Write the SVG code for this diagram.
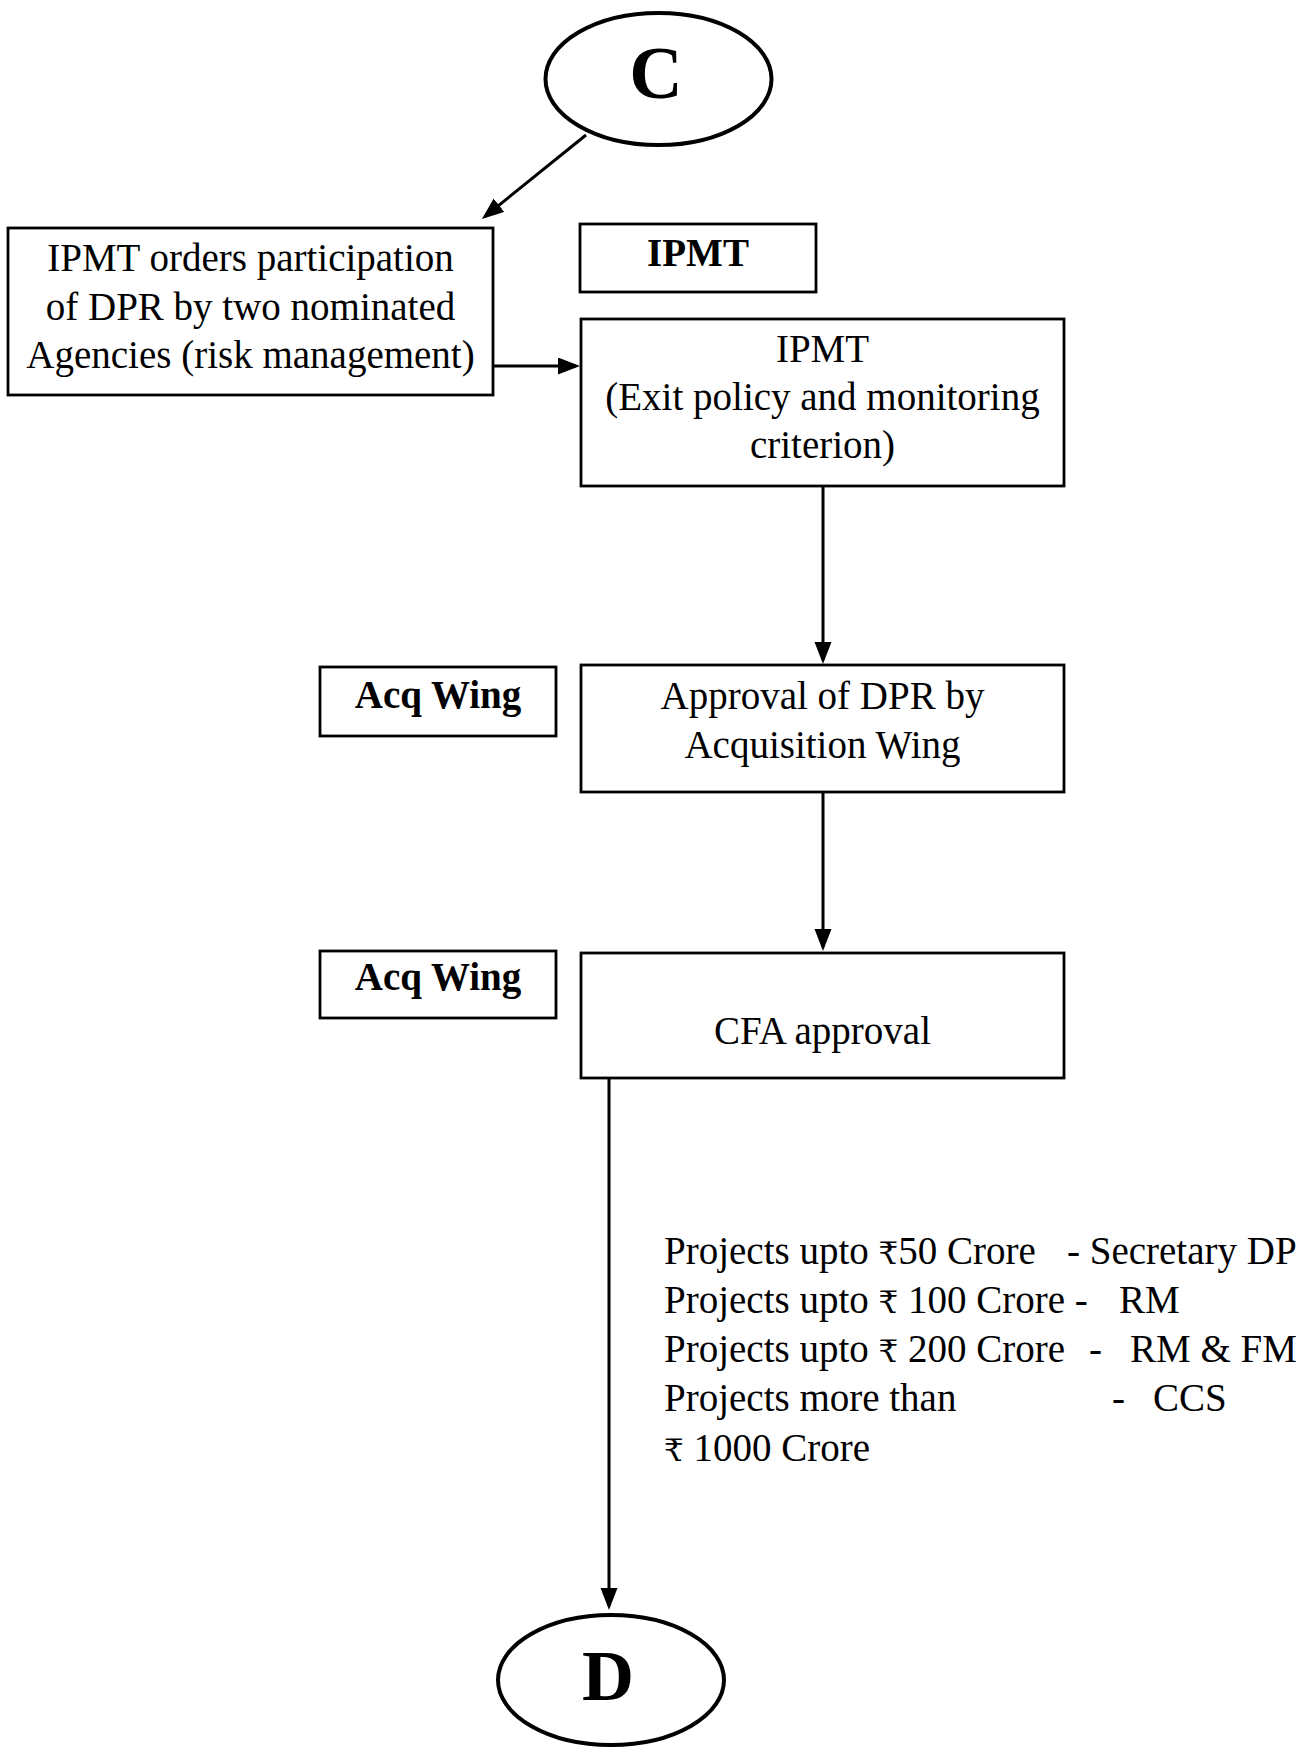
<svg xmlns="http://www.w3.org/2000/svg" width="1310" height="1749" viewBox="0 0 1310 1749">
  <style>
    .box { fill: #fff; stroke: #000; stroke-width: 2.8; }
    .oval { fill: #fff; stroke: #000; stroke-width: 4; }
    .t { font-family: "Liberation Serif", "Times New Roman", "DejaVu Serif", serif; font-size: 39px; fill: #000; }
    .c { text-anchor: middle; }
    .b { font-weight: bold; }
    .rs { font-size: 31px; }
    .big { font-family: "Liberation Serif", "Times New Roman", serif; font-weight: bold; text-anchor: middle; fill: #000; }
    .conn { fill: none; stroke: #000; stroke-width: 3; marker-end: url(#arrow); }
  </style>
  <defs>
    <marker id="arrow" markerUnits="userSpaceOnUse" markerWidth="24" markerHeight="18" refX="18" refY="8.5" orient="auto">
      <path d="M0,0 L22,8.5 L0,17 Z" fill="#000"/>
    </marker>
  </defs>

  <rect width="1310" height="1749" fill="#fff"/>

  <!-- connectors -->
  <g id="connectors">
    <line class="conn" x1="586" y1="135" x2="485" y2="216.5"/>
    <line class="conn" x1="493" y1="366" x2="576" y2="366"/>
    <line class="conn" x1="823" y1="486" x2="823" y2="660"/>
    <line class="conn" x1="823" y1="792" x2="823" y2="947"/>
    <line class="conn" x1="609" y1="1078" x2="609" y2="1606"/>
  </g>

  <!-- start connector C -->
  <g id="node-c">
    <ellipse class="oval" cx="658.5" cy="79" rx="113" ry="66"/>
    <text class="big" x="656" y="98" font-size="74">C</text>
  </g>

  <g id="node-agencies">
    <rect class="box" x="8" y="228" width="485" height="167"/>
    <text class="t c" x="250.5" y="271">IPMT orders participation</text>
    <text class="t c" x="250.5" y="319.5">of DPR by two nominated</text>
    <text class="t c" x="250.5" y="368">Agencies (risk management)</text>
  </g>

  <g id="label-ipmt">
    <rect class="box" x="580" y="224" width="236" height="68"/>
    <text class="t c b" x="698" y="266">IPMT</text>
  </g>

  <g id="node-ipmt">
    <rect class="box" x="581" y="319" width="483" height="167"/>
    <text class="t c" x="822.5" y="362">IPMT</text>
    <text class="t c" x="822.5" y="410">(Exit policy and monitoring</text>
    <text class="t c" x="822.5" y="458">criterion)</text>
  </g>

  <g id="label-acq-1">
    <rect class="box" x="320" y="667" width="236" height="69"/>
    <text class="t c b" x="438" y="708">Acq Wing</text>
  </g>

  <g id="node-approval">
    <rect class="box" x="581" y="665" width="483" height="127"/>
    <text class="t c" x="822.5" y="709">Approval of DPR by</text>
    <text class="t c" x="822.5" y="758">Acquisition Wing</text>
  </g>

  <g id="label-acq-2">
    <rect class="box" x="320" y="951" width="236" height="67"/>
    <text class="t c b" x="438" y="990">Acq Wing</text>
  </g>

  <g id="node-cfa">
    <rect class="box" x="581" y="953" width="483" height="125"/>
    <text class="t c" x="822.5" y="1044">CFA approval</text>
  </g>

  <!-- approval limits -->
  <g id="limits">
    <text class="t" x="664" y="1264">Projects upto <tspan class="rs">₹</tspan>50 Crore</text>
    <text class="t" x="1067" y="1264">- Secretary DP</text>
    <text class="t" x="664" y="1313">Projects upto <tspan class="rs">₹</tspan> 100 Crore -</text>
    <text class="t" x="1119" y="1313">RM</text>
    <text class="t" x="664" y="1362">Projects upto <tspan class="rs">₹</tspan> 200 Crore</text>
    <text class="t" x="1089" y="1362">-</text>
    <text class="t" x="1130" y="1362">RM &amp; FM</text>
    <text class="t" x="664" y="1411">Projects more than</text>
    <text class="t" x="1112" y="1411">-</text>
    <text class="t" x="1153" y="1411">CCS</text>
    <text class="t" x="664" y="1461"><tspan class="rs">₹</tspan> 1000 Crore</text>
  </g>

  <!-- end connector D -->
  <g id="node-d">
    <ellipse class="oval" cx="611" cy="1680" rx="113" ry="65"/>
    <text class="big" x="608" y="1700" font-size="72">D</text>
  </g>
</svg>
